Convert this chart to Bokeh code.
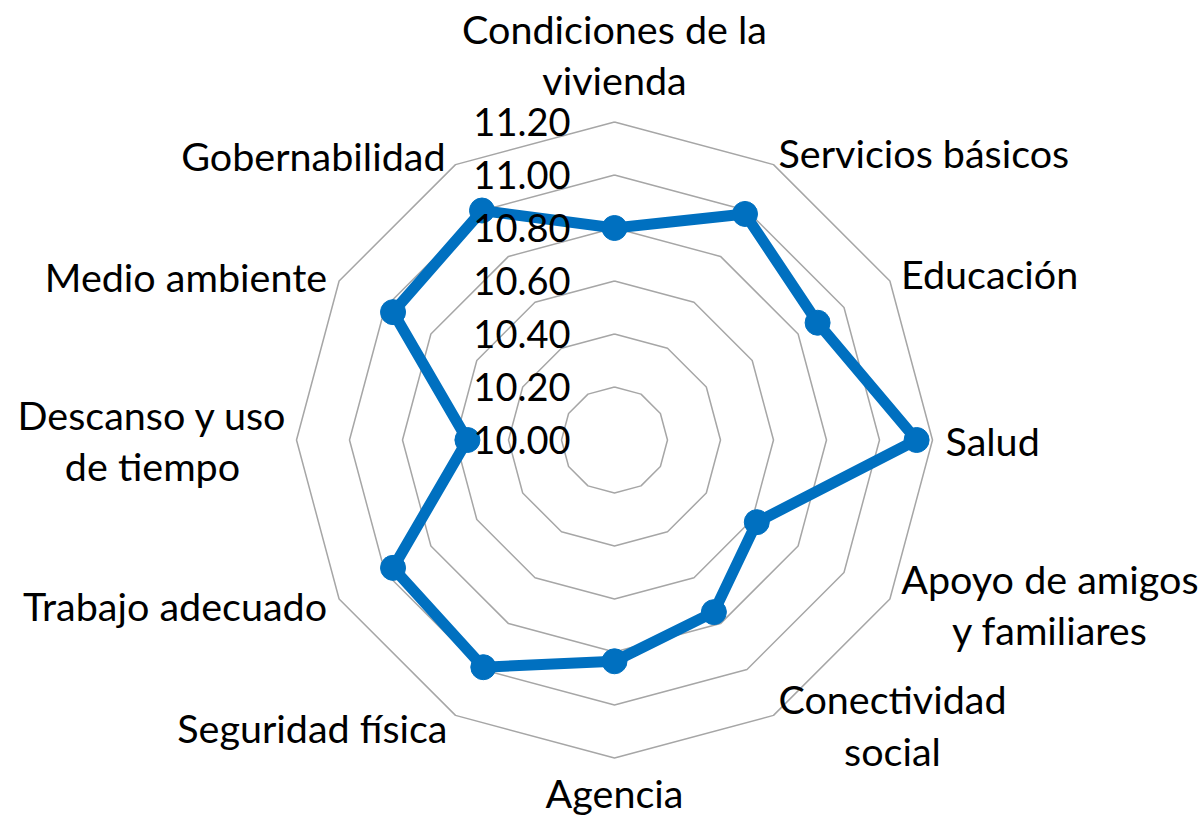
import math
from bokeh.plotting import figure
from bokeh.models import Range1d
from bokeh.core.properties import value
from bokeh.embed import file_html
from bokeh.resources import INLINE

# ---- data ----
categories = [
    "Condiciones de la\nvivienda", "Servicios básicos", "Educación", "Salud",
    "Apoyo de amigos\ny familiares", "Conectividad\nsocial", "Agencia",
    "Seguridad física", "Trabajo adecuado", "Descanso y uso\nde tiempo",
    "Medio ambiente", "Gobernabilidad",
]
values = [10.80, 10.985, 10.885, 11.14, 10.62, 10.75, 10.835, 10.99, 10.965, 10.555, 10.965, 11.0]
tick_values = [10.00, 10.20, 10.40, 10.60, 10.80, 11.00, 11.20]
tick_labels = ["10.00", "10.20", "10.40", "10.60", "10.80", "11.00", "11.20"]

RMIN = 10.0
PX = 265.0  # pixels per value unit
FONT = value("Lato")
FS_CAT = "39.5px"
FS_TICK = "38px"

W, H = 1203, 817
cx_s, cy_s = 614.0, 439.5  # center in plot pixels
p = figure(width=W, height=H, output_backend="svg", toolbar_location=None,
           x_range=Range1d(-cx_s / PX, (W - cx_s) / PX),
           y_range=Range1d(-(H - cy_s) / PX, cy_s / PX),
           min_border=0, outline_line_color=None)
p.axis.visible = False
p.grid.visible = False
p.background_fill_color = "white"
p.border_fill_color = "white"

n = len(categories)
angles = [2 * math.pi * i / n for i in range(n)]

def pos(v, a):
    r = v - RMIN
    return r * math.sin(a), r * math.cos(a)

# grid rings
for tv in tick_values[1:]:
    xs = [pos(tv, a)[0] for a in angles] + [pos(tv, angles[0])[0]]
    ys = [pos(tv, a)[1] for a in angles] + [pos(tv, angles[0])[1]]
    p.line(xs, ys, line_color="#A6A6A6", line_width=1.5)

# series
sx = [pos(v, a)[0] for v, a in zip(values, angles)]
sy = [pos(v, a)[1] for v, a in zip(values, angles)]
p.line(sx + [sx[0]], sy + [sy[0]], line_color="#0070C0", line_width=11, line_join="round")
p.scatter(sx, sy, size=25, fill_color="#0070C0", line_color="#0070C0")

# tick labels
p.text(x=[-44 / PX] * len(tick_values), y=[tv - RMIN for tv in tick_values], text=tick_labels,
       text_font=FONT, text_font_size=FS_TICK, text_align="right", text_baseline="middle",
       text_color="#000000")

# category labels: offsets (px) from outer ring vertex, and alignment
layout = [
    (0, 68, "center"), (5, 12, "left"), (11, 8, "left"), (13, 0, "left"),
    (160, -5, "center"), (119, -9, "center"), (0, -34, "center"),
    (-8, -12, "right"), (-12, -6, "right"), (-144, 0, "center"),
    (-12, 5, "right"), (-10, 9, "right"),
]
rmax = tick_values[-1]
for cat, a, (dx, dy, al) in zip(categories, angles, layout):
    vx, vy = pos(rmax, a)
    p.text(x=[vx + dx / PX], y=[vy + dy / PX], text=[cat], text_font=FONT,
           text_font_size=FS_CAT, text_align=al, text_baseline="middle",
           text_color="#000000", text_line_height=1.1)

open("out.html", "w").write(file_html(p, INLINE))
